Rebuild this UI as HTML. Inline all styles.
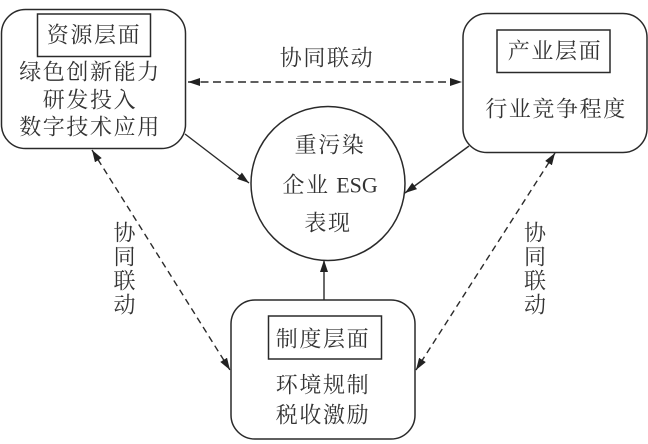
<!DOCTYPE html>
<html><head><meta charset="utf-8"><style>
html,body{margin:0;padding:0;background:#fff}
svg{display:block}
text{font-family:"Liberation Serif","Noto Serif CJK SC",serif;font-size:22px;fill:#333;text-anchor:middle;dominant-baseline:central}
.s{fill:none;stroke:#2a2a2a;stroke-width:1.5}
.d{stroke:#2a2a2a;stroke-width:1.4;stroke-dasharray:6.5 4.5;fill:none}
.h{stroke:#2a2a2a;stroke-width:1.5;stroke-dasharray:8 4.5;fill:none}
.l{stroke:#2a2a2a;stroke-width:1.4;fill:none}
</style></head><body>
<svg width="648" height="444" viewBox="0 0 648 444" xmlns="http://www.w3.org/2000/svg">
<defs>
<marker id="a" viewBox="0 0 12 8" refX="12" refY="4" markerUnits="userSpaceOnUse" markerWidth="12" markerHeight="8" orient="auto-start-reverse"><path d="M0 0L12 4L0 8Z" fill="#222"/></marker>
</defs>
<rect class="s" x="1.5" y="9.5" width="184" height="139" rx="24"/>
<rect class="s" x="37.5" y="14" width="113" height="42.5"/>
<rect class="s" x="463" y="13.5" width="184" height="139" rx="24"/>
<rect class="s" x="497" y="30" width="113" height="42.5"/>
<rect class="s" x="231" y="300" width="184" height="139" rx="24"/>
<rect class="s" x="268.5" y="316" width="113" height="43"/>
<circle class="s" cx="328" cy="183.5" r="77"/>
<line class="h" x1="188" y1="82" x2="462" y2="82" marker-start="url(#a)" marker-end="url(#a)"/>
<line class="d" x1="92" y1="150" x2="230" y2="370" marker-start="url(#a)" marker-end="url(#a)"/>
<line class="d" x1="555" y1="153" x2="416" y2="370" marker-start="url(#a)" marker-end="url(#a)"/>
<line class="l" x1="185" y1="134" x2="249" y2="183" marker-end="url(#a)"/>
<line class="l" x1="469" y1="146" x2="405" y2="193" marker-end="url(#a)"/>
<line class="l" x1="324" y1="300" x2="324" y2="260" marker-end="url(#a)"/>
<g letter-spacing="1.6">
<text x="94" y="35">资源层面</text>
<text x="90" y="72">绿色创新能力</text>
<text x="90" y="100">研发投入</text>
<text x="90" y="127">数字技术应用</text>
<text x="555" y="51">产业层面</text>
<text x="556" y="109">行业竞争程度</text>
<text x="323" y="339">制度层面</text>
<text x="323" y="385">环境规制</text>
<text x="323" y="415">税收激励</text>
<text x="330" y="145">重污染</text>
<text x="306" y="185">企业</text>
<text x="328" y="223">表现</text>
<text x="327" y="58">协同联动</text>
</g>
<text x="357" y="185" letter-spacing="0">ESG</text>
<text x="124.500" y="233">协</text>
<text x="124.500" y="257">同</text>
<text x="124.500" y="281">联</text>
<text x="124.500" y="305">动</text>
<text x="535" y="233">协</text>
<text x="535" y="257">同</text>
<text x="535" y="281">联</text>
<text x="535" y="305">动</text>
</svg>
</body></html>
